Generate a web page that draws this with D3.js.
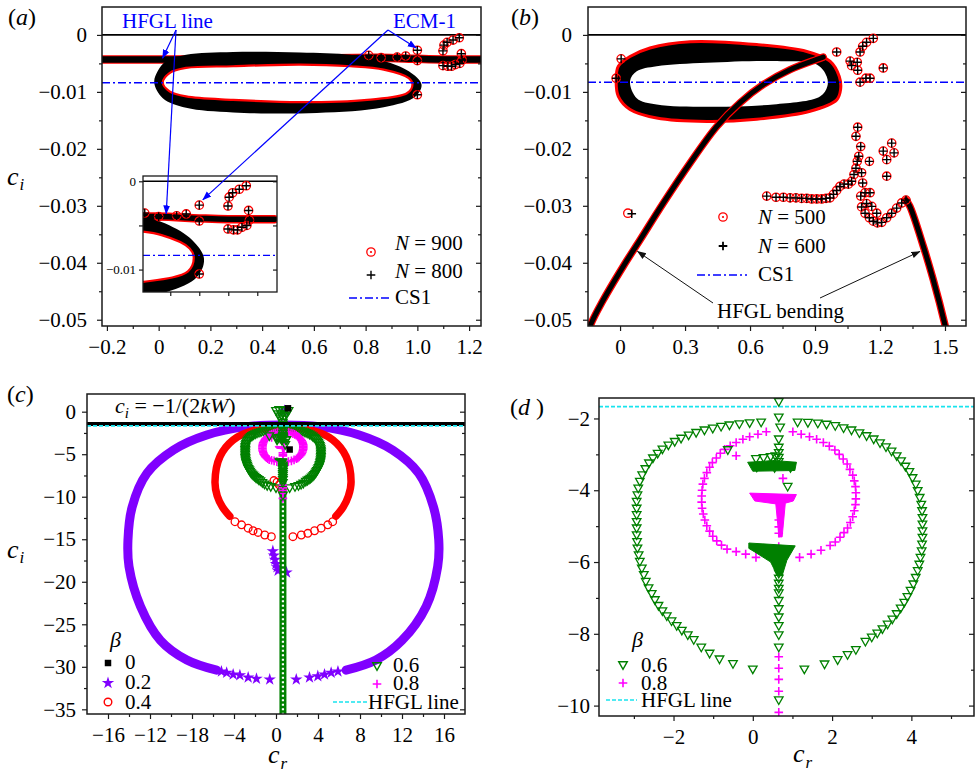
<!DOCTYPE html>
<html>
<head>
<meta charset="utf-8">
<script src="https://cdn.jsdelivr.net/npm/d3@7"></script>
<style>
  html, body { margin: 0; padding: 0; background: #fff; }
  svg, svg text { font-family: "Liberation Serif", "Times New Roman", "DejaVu Serif", serif; }
</style>
</head>
<body>
<svg id="fig" width="975" height="774"></svg>
<script>
// ================= data =================
// ---- panel (a): N = 900 / N = 800 spectra ----
const aXTicks = [-0.2, 0, 0.2, 0.4, 0.6, 0.8, 1.0, 1.2];
const aXTickLabels = ["−0.2", "0", "0.2", "0.4", "0.6", "0.8", "1.0", "1.2"];
const aXMinor = [-0.1, 0.1, 0.3, 0.5, 0.7, 0.9, 1.1];
const ciTicks = [0, -0.01, -0.02, -0.03, -0.04, -0.05];
const ciTickLabels = ["0", "−0.01", "−0.02", "−0.03", "−0.04", "−0.05"];
const ciMinor = [-0.005, -0.015, -0.025, -0.035, -0.045];
const aCS1 = -0.0084;
// outer and inner edges of the closed eigenvalue ring
const aRingOuter = [[-0.017,-0.0084],[-0.004,-0.0064],[0.029,-0.0046],[0.106,-0.0035],[0.288,-0.0030],[0.547,-0.0031],[0.741,-0.0035],[0.870,-0.0046],[0.967,-0.0064],[1.016,-0.0087],[0.993,-0.0108],[0.870,-0.0127],[0.611,-0.0137],[0.288,-0.0136],[0.106,-0.0128],[0.016,-0.0111]];
const aRingInner = [[0.016,-0.0084],[0.042,-0.0067],[0.106,-0.0058],[0.288,-0.0055],[0.547,-0.0052],[0.741,-0.0055],[0.870,-0.0061],[0.967,-0.0076],[0.981,-0.0087],[0.961,-0.0102],[0.806,-0.0114],[0.547,-0.0118],[0.288,-0.0114],[0.106,-0.0108],[0.042,-0.0099]];
// HFGL line branch
const aHfgl = [[-0.23,-0.0043],[0.05,-0.0043],[0.5,-0.0042],[0.85,-0.0040],[1.0,-0.0042],[1.1,-0.0043],[1.26,-0.0043]];
// isolated eigenvalues (ECM-1 and neighbours)
const aScatter = [[1.0,-0.0027],[1.0,-0.0105],[0.812,-0.0036],[0.860,-0.0040],[0.922,-0.0039],[0.955,-0.0037],[1.0,-0.0045],
  [1.099,-0.0028],[1.103,-0.0018],[1.115,-0.0013],[1.138,-0.0009],[1.162,-0.0005],
  [1.099,-0.0054],[1.118,-0.0055],[1.132,-0.0055],[1.147,-0.0052],[1.164,-0.0050],[1.173,-0.0044],[1.170,-0.0033]];
const insetXTicks = [0.9, 1.0, 1.1, 1.2];
const insetYTicks = [0, -0.005, -0.01];
const insetYTickLabels = ["0", "", "−0.01"];

// ---- panel (b): N = 500 / N = 600 spectra ----
const bXTicks = [0, 0.3, 0.6, 0.9, 1.2, 1.5];
const bXTickLabels = ["0", "0.3", "0.6", "0.9", "1.2", "1.5"];
const bXMinor = [0.15, 0.45, 0.75, 1.05, 1.35];
const bCS1 = -0.0083;
const bRingOuter = [[-0.018,-0.0079],[-0.008,-0.0055],[0.046,-0.0038],[0.138,-0.0023],[0.323,-0.0012],[0.631,-0.0017],[0.862,-0.0029],[0.969,-0.0046],[1.012,-0.0073],[1.018,-0.0096],[1.0,-0.0114],[0.877,-0.0134],[0.631,-0.0148],[0.400,-0.0152],[0.169,-0.0146],[0.046,-0.0131],[-0.008,-0.0108]];
const bRingInner = [[0.046,-0.0081],[0.077,-0.0064],[0.169,-0.0055],[0.400,-0.0049],[0.708,-0.0046],[0.908,-0.0052],[0.954,-0.0073],[0.957,-0.0090],[0.923,-0.0108],[0.708,-0.0122],[0.400,-0.0126],[0.169,-0.0122],[0.077,-0.0111]];
const bBendLeft = [[-0.16,-0.0545],[-0.138,-0.0511],[-0.077,-0.0465],[0.015,-0.0406],[0.092,-0.0360],[0.200,-0.0295],[0.323,-0.0225],[0.446,-0.0161],[0.554,-0.0119],[0.662,-0.0087],[0.785,-0.0061],[0.908,-0.0043],[0.938,-0.0039]];
const bBendRight = [[1.320,-0.0290],[1.338,-0.0301],[1.400,-0.0371],[1.446,-0.0430],[1.500,-0.0509],[1.515,-0.0535]];
const bOnly500 = [[0.036,-0.0313]];
const bOnly600 = [[0.054,-0.0314]];
const bScatter = [[0.005,-0.0042],[-0.018,-0.0076],
  [1.000,-0.0030],[1.062,-0.0046],[1.069,-0.0054],[1.095,-0.0048],[1.097,-0.0062],[1.108,-0.0083],[1.135,-0.0076],[1.154,-0.0076],[1.215,-0.0058],
  [1.108,-0.0030],[1.120,-0.0020],[1.138,-0.0013],[1.169,-0.0006],
  [0.677,-0.0283],[0.720,-0.0285],[0.754,-0.0285],[0.785,-0.0286],[0.812,-0.0286],[0.838,-0.0287],[0.862,-0.0287],[0.885,-0.0288],[0.908,-0.0288],[0.931,-0.0288],[0.951,-0.0287],[0.969,-0.0286],[0.985,-0.0280],[1.000,-0.0273],[1.015,-0.0266],[1.034,-0.0262],[1.054,-0.0262],[1.069,-0.0257],[1.080,-0.0245],[1.089,-0.0234],[1.095,-0.0222],[1.102,-0.0213],
  [1.089,-0.0178],[1.097,-0.0162],[1.111,-0.0196],[1.115,-0.0242],[1.120,-0.0260],[1.111,-0.0283],[1.115,-0.0302],[1.131,-0.0313],[1.151,-0.0321],[1.169,-0.0327],[1.188,-0.0330],[1.208,-0.0329],[1.231,-0.0321],[1.254,-0.0313],[1.277,-0.0304],[1.300,-0.0295],[1.320,-0.0290],
  [1.138,-0.0296],[1.162,-0.0301],[1.185,-0.0313],[1.154,-0.0277],[1.131,-0.0277],
  [1.151,-0.0222],[1.215,-0.0204],[1.254,-0.0190],[1.265,-0.0207],[1.231,-0.0219],[1.231,-0.0248]];

// ---- panel (c): spectra for several β ----
const cXTicks = [-16, -12, -8, -4, 0, 4, 8, 12, 16];
const cXTickLabels = ["−16", "−12", "−18", "−4", "0", "4", "8", "12", "16"];
const cXMinor = [-14, -10, -6, -2, 2, 6, 10, 14];
const cYTicks = [0, -5, -10, -15, -20, -25, -30, -35];
const cYTickLabels = ["0", "−5", "−10", "−15", "−20", "−25", "−30", "−35"];
const cYMinor = [-2.5, -7.5, -12.5, -17.5, -22.5, -27.5, -32.5];
const cLineKW = -1.45;      // c_i = −1/(2kW)
const hfglLevel = -1.67;    // HFGL line
const beta0 = [[1.14,0.4],[1.30,-4.45]];
const beta02Band = [[-5.65,-30.4],[-8.49,-29.2],[-11.0,-26.9],[-12.9,-22.9],[-14.0,-18.2],[-14.1,-15.1],[-13.7,-11.2],[-12.3,-7.25],[-9.76,-4.5],[-6.60,-2.74],[-2.81,-1.76],[0.66,-1.56],[4.14,-1.76],[7.93,-2.74],[11.1,-4.5],[13.6,-7.25],[15.0,-11.2],[15.5,-15.1],[15.4,-18.2],[14.3,-22.9],[12.0,-26.9],[9.52,-29.2],[6.67,-30.4]];
const beta02Stars = [[-5.2,-30.55],[-4.70,-30.7],[-4.08,-30.9],[-3.44,-31.0],[-2.65,-31.25],[-1.86,-31.4],[-0.60,-31.5],[1.93,-31.5],[3.19,-31.25],[3.98,-31.1],[4.62,-30.9],[5.25,-30.7],[5.9,-30.55],
  [-0.3,-16.4],[-0.2,-16.9],[-0.1,-17.4],[0.0,-17.9],[0.1,-18.3],[0.2,-18.7],[1.0,-18.9],[0.8,0.1]];
const beta04Band = [[-4.4,-12.3],[-5.1,-11.2],[-5.6,-9.9],[-5.81,-8.24],[-5.34,-5.29],[-4.08,-3.33],[-2.18,-2.24],[0.67,-1.90],[3.52,-2.24],[5.42,-3.33],[6.68,-5.29],[7.15,-8.24],[6.9,-9.9],[6.4,-11.2],[5.7,-12.3]];
const beta04Circles = [[-3.91,-12.94],[-3.28,-13.3],[-2.65,-13.7],[-2.18,-14.0],[-1.71,-14.2],[-1.07,-14.5],[-0.44,-14.7],
  [1.61,-14.7],[2.41,-14.5],[3.03,-14.3],[3.67,-14.0],[4.30,-13.7],[4.93,-13.3],[5.40,-12.94],
  [-0.2,-8.1],[0.1,-8.3],[0.3,-8.6],[0.6,-9.2]];
const beta06Top = [[0.0,0.1],[0.3,0.2],[0.6,0.2],[0.9,0.1],[1.2,0.1],[0.2,-0.3],[0.5,-0.4],[0.8,-0.5],[1.0,-0.3],[0.4,-0.8],[0.7,-0.9],[0.65,-1.3]];
const beta06Deep = [[0.66,-6.3],[0.66,-35.8]];

// ---- panel (d): β = 0.6 and 0.8 in detail ----
const dXTicks = [-2, 0, 2, 4];
const dXTickLabels = ["−2", "0", "2", "4"];
const dXMinor = [-3, -1, 1, 3, 5];
const dYTicks = [-2, -4, -6, -8, -10];
const dYTickLabels = ["−2", "−4", "−6", "−8", "−10"];
const dYMinor = [-3, -5, -7, -9];
const beta06RingLeft = [[0.21,-2.11],[-0.08,-2.13],[-0.34,-2.16],[-0.59,-2.19],[-0.80,-2.23],[-1.01,-2.28],[-1.22,-2.33],[-1.43,-2.40],[-1.62,-2.47],[-1.81,-2.56],[-1.97,-2.65],[-2.13,-2.75],[-2.28,-2.86],[-2.40,-2.98],[-2.52,-3.11],[-2.62,-3.25],[-2.71,-3.41],[-2.79,-3.58],[-2.85,-3.76],[-2.89,-3.95],[-2.91,-4.14],[-2.93,-4.32],[-2.93,-4.51],[-2.93,-4.69],[-2.93,-4.88],[-2.93,-5.06],[-2.93,-5.25],[-2.92,-5.44],[-2.91,-5.62],[-2.88,-5.81],[-2.85,-5.99],[-2.80,-6.18],[-2.75,-6.36],[-2.70,-6.55],[-2.63,-6.73],[-2.55,-6.89],[-2.47,-7.06],[-2.38,-7.22],[-2.28,-7.37],[-2.17,-7.51],[-2.05,-7.65],[-1.92,-7.78],[-1.79,-7.91],[-1.64,-8.04],[-1.49,-8.17],[-1.30,-8.38],[-1.09,-8.55],[-0.84,-8.71],[-0.50,-8.84],[0.00,-8.99]];
const beta06RingRight = [[1.13,-2.11],[1.39,-2.12],[1.64,-2.14],[1.86,-2.17],[2.08,-2.21],[2.29,-2.27],[2.49,-2.33],[2.69,-2.41],[2.87,-2.49],[3.05,-2.58],[3.21,-2.69],[3.36,-2.80],[3.50,-2.92],[3.63,-3.05],[3.74,-3.19],[3.85,-3.34],[3.95,-3.49],[4.03,-3.66],[4.11,-3.84],[4.16,-4.02],[4.21,-4.21],[4.25,-4.40],[4.27,-4.58],[4.28,-4.77],[4.28,-4.95],[4.28,-5.14],[4.28,-5.32],[4.27,-5.51],[4.26,-5.70],[4.23,-5.88],[4.20,-6.07],[4.16,-6.25],[4.11,-6.44],[4.05,-6.62],[3.98,-6.80],[3.90,-6.97],[3.82,-7.13],[3.73,-7.29],[3.63,-7.45],[3.52,-7.60],[3.40,-7.74],[3.27,-7.87],[3.14,-7.99],[3.00,-8.10],[2.84,-8.22],[2.60,-8.45],[2.39,-8.59],[2.14,-8.73],[1.81,-8.85],[1.30,-8.99]];
const beta06Stem = [[0.655,-1.54],[0.655,-1.97],[0.69,-2.25],[0.655,-2.58],[0.655,-2.81],[0.655,-2.96],[0.655,-3.09],[0.655,-3.21],[0.88,-3.90],
  [0.655,-6.32],[0.655,-6.46],[0.655,-6.60],[0.655,-6.74],[0.655,-6.87],[0.655,-7.08],[0.655,-7.31],[0.655,-7.54],[0.655,-7.78],[0.655,-8.04],[0.655,-8.38],[0.655,-9.85],
  [-0.63,-2.88],[0.08,-3.13],[0.27,-3.10],[0.45,-3.07],[0.57,-3.05],[0.97,-3.33],[0.10,-3.36],[0.55,-3.38],[0.95,-3.38]];
const beta06Cluster1 = [[-0.13,-3.22],[0.2,-3.20],[0.5,-3.17],[1.10,-3.22],[1.06,-3.45],[0.0,-3.47]];
const beta06Cluster2 = [[-0.10,-5.47],[1.07,-5.55],[0.86,-5.95],[0.74,-6.38],[0.62,-6.38],[0.45,-6.0],[0.05,-5.72],[-0.10,-5.62]];
const beta08RingLeft = [[0.34,-2.37],[0.13,-2.44],[-0.08,-2.51],[-0.25,-2.58],[-0.42,-2.67],[-0.57,-2.76],[-0.71,-2.86],[-0.82,-2.97],[-0.92,-3.10],[-1.02,-3.23],[-1.09,-3.36],[-1.16,-3.51],[-1.22,-3.67],[-1.26,-3.83],[-1.28,-4.00],[-1.29,-4.16],[-1.29,-4.33],[-1.28,-4.50],[-1.25,-4.66],[-1.21,-4.83],[-1.16,-4.99],[-1.09,-5.14],[-1.01,-5.28],[-0.91,-5.41],[-0.79,-5.53],[-0.65,-5.64],[-0.42,-5.71],[-0.18,-5.78],[0.08,-5.87]];
const beta08RingRight = [[1.01,-2.37],[1.22,-2.44],[1.43,-2.51],[1.61,-2.58],[1.78,-2.67],[1.93,-2.77],[2.07,-2.88],[2.18,-3.00],[2.28,-3.13],[2.38,-3.27],[2.45,-3.42],[2.52,-3.58],[2.56,-3.74],[2.59,-3.90],[2.60,-4.07],[2.60,-4.24],[2.59,-4.40],[2.56,-4.57],[2.52,-4.74],[2.46,-4.90],[2.39,-5.05],[2.30,-5.18],[2.20,-5.31],[2.08,-5.44],[1.95,-5.54],[1.72,-5.67],[1.47,-5.78],[1.18,-5.87]];
const beta08Stem = [[-0.42,-3.04],[0.76,-3.67],[0.655,-4.83],[0.655,-5.02],[0.655,-5.20],[0.655,-5.57],[0.655,-8.64],[0.655,-8.96],[0.655,-9.27],[0.655,-9.60],[0.655,-10.19]];
const beta08Cluster = [[-0.08,-4.08],[1.10,-4.12],[1.02,-4.30],[0.82,-4.36],[0.74,-5.30],[0.66,-5.30],[0.58,-4.38],[0.05,-4.30]];

// ================= drawing =================
const FONT = "'Liberation Serif', 'Times New Roman', 'DejaVu Serif', serif";
const C = { red: "#ff0000", blue: "#0000ff", purple: "#8000ff", green: "#008000", magenta: "#ff00ff", cyan: "#18e4ee", ink: "#111" };
const svg = d3.select("#fig").attr("font-family", FONT);
svg.append("rect").attr("width", 975).attr("height", 774).attr("fill", "#fff");
const defs = svg.append("defs");

function arrowHead(id, color) {
  defs.append("marker").attr("id", id).attr("viewBox", "0 0 10 10")
    .attr("refX", 9.5).attr("refY", 5).attr("markerWidth", 9).attr("markerHeight", 9)
    .attr("markerUnits", "userSpaceOnUse").attr("orient", "auto")
    .append("path").attr("d", "M0,1.2L10,5L0,8.8Z").attr("fill", color);
}
arrowHead("arrBlue", C.blue);
arrowHead("arrBlack", C.ink);

let clipN = 0;
function makePanel(box, xd, yd) {
  const x = d3.scaleLinear().domain(xd).range([box.left, box.right]);
  const y = d3.scaleLinear().domain(yd).range([box.bottom, box.top]);
  const g = svg.append("g");
  const id = "clip" + (clipN++);
  defs.append("clipPath").attr("id", id).append("rect")
    .attr("x", box.left).attr("y", box.top).attr("width", box.right - box.left).attr("height", box.bottom - box.top);
  const plot = g.append("g").attr("clip-path", `url(#${id})`);
  return { x, y, g, plot, box };
}

function axes(P, s) {
  const { x, y, g, box } = P;
  const fs = s.fs || 21, major = s.major || 5, minor = s.minor || 3;
  const style = a => {
    a.select(".domain").remove();
    a.attr("font-family", FONT).attr("font-size", fs).attr("color", "#1a1a1a");
    a.selectAll("line").attr("stroke-width", 1.2);
    a.selectAll("text").attr("fill", "#000").attr("font-family", FONT);
  };
  const bottom = g.append("g").attr("transform", `translate(0,${box.bottom})`);
  bottom.append("g").call(d3.axisBottom(x).tickValues(s.xt).tickFormat((d, i) => s.xl[i]).tickSizeInner(major).tickSizeOuter(0).tickPadding(s.xpad ?? 8)).call(style);
  bottom.append("g").call(d3.axisBottom(x).tickValues(s.xm).tickFormat("").tickSizeInner(minor).tickSizeOuter(0)).call(style);
  const left = g.append("g").attr("transform", `translate(${box.left},0)`);
  left.append("g").call(d3.axisLeft(y).tickValues(s.yt).tickFormat((d, i) => s.yl[i]).tickSizeInner(major).tickSizeOuter(0).tickPadding(s.ypad ?? 8)).call(style);
  left.append("g").call(d3.axisLeft(y).tickValues(s.ym).tickFormat("").tickSizeInner(minor).tickSizeOuter(0)).call(style);
  // mirrored ticks on the right edge point into the plot
  const right = g.append("g").attr("transform", `translate(${box.right},0)`);
  right.append("g").call(d3.axisLeft(y).tickValues(s.yt).tickFormat("").tickSizeInner(major).tickSizeOuter(0)).call(style);
  right.append("g").call(d3.axisLeft(y).tickValues(s.ym).tickFormat("").tickSizeInner(minor).tickSizeOuter(0)).call(style);
  g.append("rect").attr("x", box.left).attr("y", box.top)
    .attr("width", box.right - box.left).attr("height", box.bottom - box.top)
    .attr("fill", "none").attr("stroke", "#1a1a1a").attr("stroke-width", s.frame || 1.5);
}

function hline(P, v, color, width, dash) {
  const l = P.plot.append("line").attr("x1", P.box.left).attr("x2", P.box.right)
    .attr("y1", P.y(v)).attr("y2", P.y(v)).attr("stroke", color).attr("stroke-width", width);
  if (dash) l.attr("stroke-dasharray", dash);
  return l;
}

function band(sel, data, P, color, width, curve) {
  const line = d3.line().x(d => P.x(d[0])).y(d => P.y(d[1])).curve(curve || d3.curveCatmullRom);
  return sel.append("path").datum(data).attr("d", line).attr("fill", "none")
    .attr("stroke", color).attr("stroke-width", width)
    .attr("stroke-linecap", "round").attr("stroke-linejoin", "round");
}

function ring(sel, outer, inner, P) {
  const closed = d3.line().x(d => P.x(d[0])).y(d => P.y(d[1])).curve(d3.curveCatmullRomClosed);
  sel.append("path").attr("d", closed(outer) + closed(inner)).attr("fill", "#000").attr("fill-rule", "evenodd");
  return closed;
}

function polygon(sel, data, P, color) {
  const closed = d3.line().x(d => P.x(d[0])).y(d => P.y(d[1])).curve(d3.curveLinearClosed);
  sel.append("path").attr("d", closed(data)).attr("fill", color).attr("stroke", color).attr("stroke-width", 1);
}

const SYM = {
  plus: "M-4.3,0H4.3M0,-4.3V4.3",
  tri: "M-4.3,-3.3L4.3,-3.3L0,4.3Z"
};
function markers(sel, data, P, kind) {
  const g = sel.append("g");
  const pos = d => `translate(${P.x(d[0])},${P.y(d[1])})`;
  if (kind === "circPlus" || kind === "circ") {
    g.selectAll("circle").data(data).join("circle").attr("cx", d => P.x(d[0])).attr("cy", d => P.y(d[1]))
      .attr("r", 4.2).attr("fill", "none").attr("stroke", C.red).attr("stroke-width", 1.3);
  }
  if (kind === "circPlus" || kind === "plus") {
    g.selectAll("path").data(data).join("path").attr("transform", pos).attr("d", SYM.plus)
      .attr("stroke", "#000").attr("stroke-width", 1.4);
  } else if (kind === "tri") {
    g.selectAll("path").data(data).join("path").attr("transform", pos).attr("d", SYM.tri)
      .attr("fill", "none").attr("stroke", C.green).attr("stroke-width", 1.3);
  } else if (kind === "mplus") {
    g.selectAll("path").data(data).join("path").attr("transform", pos).attr("d", SYM.plus)
      .attr("stroke", C.magenta).attr("stroke-width", 1.6);
  } else if (kind === "star") {
    g.selectAll("path").data(data).join("path").attr("transform", pos)
      .attr("d", d3.symbol(d3.symbolStar, 48)).attr("fill", C.purple);
  } else if (kind === "rcircle") {
    g.selectAll("circle").data(data).join("circle").attr("cx", d => P.x(d[0])).attr("cy", d => P.y(d[1]))
      .attr("r", 3.8).attr("fill", "none").attr("stroke", C.red).attr("stroke-width", 1.3);
  } else if (kind === "square") {
    g.selectAll("path").data(data).join("path").attr("transform", pos)
      .attr("d", d3.symbol(d3.symbolSquare, 42)).attr("fill", "#000");
  }
  return g;
}

function label(sel, x, y, parts, size, fill) {
  const t = sel.append("text").attr("x", x).attr("y", y).attr("font-family", FONT)
    .attr("font-size", size || 21).attr("fill", fill || "#000");
  parts.forEach(p => {
    const s = t.append("tspan").text(p.t);
    if (p.i) s.attr("font-style", "italic");
    if (p.size) s.attr("font-size", p.size);
    if (p.dy) s.attr("dy", p.dy);
    if (p.dx) s.attr("dx", p.dx);
  });
  return t;
}
const ciTitle = (sel, x, y) => label(sel, x, y, [{ t: "c", i: 1, size: 26 }, { t: "i", i: 1, size: 17, dy: 5, dx: 1 }]);
const crTitle = (sel, x, y) => label(sel, x, y, [{ t: "c", i: 1, size: 26 }, { t: "r", i: 1, size: 17, dy: 6, dx: 1 }]);

// ---------- panel (a) ----------
const A = makePanel({ left: 102, right: 481, top: 7, bottom: 326 }, [-0.219, 1.246], [-0.0511, 0.0049]);
hline(A, 0, "#000", 1.6);
band(A.plot, aHfgl, A, C.red, 8.5);
band(A.plot, aHfgl, A, "#000", 6.5);
const aClosed = ring(A.plot, aRingOuter, aRingInner, A);
A.plot.append("path").attr("d", aClosed(aRingInner)).attr("fill", "none").attr("stroke", C.red).attr("stroke-width", 2.2);
hline(A, aCS1, C.blue, 1.5, "8,3,2,3");
markers(A.plot, aScatter, A, "circPlus");
axes(A, { xt: aXTicks, xl: aXTickLabels, xm: aXMinor, yt: ciTicks, yl: ciTickLabels, ym: ciMinor, ypad: 10 });

// inset of (a): close-up around the right end of the ring
const I = makePanel({ left: 143, right: 277, top: 176, bottom: 292 }, [0.806, 1.268], [-0.01254, 0.0006]);
I.plot.append("rect").attr("x", 143).attr("y", 176).attr("width", 134).attr("height", 116).attr("fill", "#fff");
hline(I, 0, "#000", 1.6);
band(I.plot, aHfgl, I, C.red, 8.5);
band(I.plot, aHfgl, I, "#000", 5.5);
ring(I.plot, aRingOuter, aRingInner, I);
I.plot.append("path").attr("d", d3.line().x(d => I.x(d[0])).y(d => I.y(d[1])).curve(d3.curveCatmullRomClosed)(aRingInner))
  .attr("fill", "none").attr("stroke", C.red).attr("stroke-width", 2.2);
hline(I, aCS1, C.blue, 1.2, "7,3,2,3");
markers(I.plot, aScatter, I, "circPlus");
axes(I, { xt: insetXTicks, xl: ["", "", "", ""], xm: [], yt: insetYTicks, yl: insetYTickLabels, ym: [], fs: 13, major: 4, minor: 2, ypad: 3, frame: 1.3 });

// annotations of (a)
const annA = svg.append("g");
label(annA, 122, 28, [{ t: "HFGL line" }], 21, C.blue);
label(annA, 393, 28, [{ t: "ECM-1" }], 21, C.blue);
const arrowsA = [
  [176, 30, A.x(0.015), A.y(-0.0041)],
  [176, 30, I.x(0.886), I.y(-0.0037)],
  [388, 30, A.x(0.996), A.y(-0.0023)],
  [388, 30, I.x(1.012), I.y(-0.0021)]
];
annA.selectAll("line.arr").data(arrowsA).join("line").attr("class", "arr")
  .attr("x1", d => d[0]).attr("y1", d => d[1]).attr("x2", d => d[2]).attr("y2", d => d[3])
  .attr("stroke", C.blue).attr("stroke-width", 1.2).attr("marker-end", "url(#arrBlue)");
// legend of (a)
annA.append("circle").attr("cx", 371).attr("cy", 252).attr("r", 4.2).attr("fill", "none").attr("stroke", C.red).attr("stroke-width", 1.3);
annA.append("circle").attr("cx", 371).attr("cy", 252).attr("r", 1.1).attr("fill", C.red);
annA.append("path").attr("transform", "translate(371,275)").attr("d", SYM.plus).attr("stroke", "#000").attr("stroke-width", 1.4);
annA.append("line").attr("x1", 349).attr("x2", 389).attr("y1", 298).attr("y2", 298).attr("stroke", C.blue).attr("stroke-width", 1.5).attr("stroke-dasharray", "8,3,2,3");
label(annA, 395, 250, [{ t: "N", i: 1 }, { t: " = 900" }]);
label(annA, 395, 278, [{ t: "N", i: 1 }, { t: " = 800" }]);
label(annA, 395, 304, [{ t: "CS1" }]);
label(annA, 8, 25, [{ t: "(" }, { t: "a", i: 1 }, { t: ")" }], 24);
ciTitle(annA, 7, 185);

// ---------- panel (b) ----------
const B = makePanel({ left: 588, right: 966, top: 7, bottom: 326 }, [-0.148, 1.597], [-0.0511, 0.0049]);
hline(B, 0, "#000", 1.6);
const bClosed = ring(B.plot, bRingOuter, bRingInner, B);
B.plot.append("path").attr("d", bClosed(bRingOuter)).attr("fill", "none").attr("stroke", C.red).attr("stroke-width", 3);
band(B.plot, bBendLeft, B, C.red, 7.5);
band(B.plot, bBendLeft, B, "#000", 5);
band(B.plot, bBendRight, B, C.red, 7.5);
band(B.plot, bBendRight, B, "#000", 5);
hline(B, bCS1, C.blue, 1.5, "8,3,2,3");
markers(B.plot, bScatter, B, "circPlus");
markers(B.plot, bOnly500, B, "circ");
markers(B.plot, bOnly600, B, "plus");
axes(B, { xt: bXTicks, xl: bXTickLabels, xm: bXMinor, yt: ciTicks, yl: ciTickLabels, ym: ciMinor, ypad: 11 });

const annB = svg.append("g");
label(annB, 511, 25, [{ t: "(" }, { t: "b", i: 1 }, { t: ")" }], 24);
annB.append("circle").attr("cx", 723).attr("cy", 217).attr("r", 4.2).attr("fill", "none").attr("stroke", C.red).attr("stroke-width", 1.3);
annB.append("circle").attr("cx", 723).attr("cy", 217).attr("r", 1.1).attr("fill", C.red);
annB.append("path").attr("transform", "translate(723,246)").attr("d", SYM.plus).attr("stroke", "#000").attr("stroke-width", 1.8);
annB.append("line").attr("x1", 697).attr("x2", 747).attr("y1", 275).attr("y2", 275).attr("stroke", C.blue).attr("stroke-width", 1.5).attr("stroke-dasharray", "8,3,2,3");
label(annB, 758, 224, [{ t: "N", i: 1 }, { t: " = 500" }]);
label(annB, 758, 253, [{ t: "N", i: 1 }, { t: " = 600" }]);
label(annB, 758, 281, [{ t: "CS1" }]);
label(annB, 717, 318, [{ t: "HFGL bending" }]);
const arrowsB = [
  [713, 303, B.x(0.080), B.y(-0.0380)],
  [820, 298, B.x(1.385), B.y(-0.0380)]
];
annB.selectAll("line.arr").data(arrowsB).join("line").attr("class", "arr")
  .attr("x1", d => d[0]).attr("y1", d => d[1]).attr("x2", d => d[2]).attr("y2", d => d[3])
  .attr("stroke", C.ink).attr("stroke-width", 1).attr("marker-end", "url(#arrBlack)");

// ---------- panel (c) ----------
const Cp = makePanel({ left: 87, right: 465, top: 394, bottom: 714 }, [-18, 18], [-35.55, 2.08]);
band(Cp.plot, beta02Band, Cp, C.purple, 9);
markers(Cp.plot, beta02Stars, Cp, "star");
band(Cp.plot, beta04Band, Cp, C.red, 7.5);
markers(Cp.plot, beta04Circles, Cp, "rcircle");
band(Cp.plot, beta06Deep, Cp, C.green, 7, d3.curveLinear).attr("stroke-linecap", "butt");
band(Cp.plot, beta06Deep, Cp, "#fff", 2.2, d3.curveLinear).attr("stroke-dasharray", "2,2.5").attr("stroke-linecap", "butt");
markers(Cp.plot, beta06RingLeft, Cp, "tri");
markers(Cp.plot, beta06RingRight, Cp, "tri");
markers(Cp.plot, beta08RingLeft, Cp, "mplus");
markers(Cp.plot, beta08RingRight, Cp, "mplus");
polygon(Cp.plot, beta08Cluster, Cp, C.magenta);
markers(Cp.plot, beta08Stem, Cp, "mplus");
polygon(Cp.plot, beta06Cluster1, Cp, C.green);
polygon(Cp.plot, beta06Cluster2, Cp, C.green);
markers(Cp.plot, beta06Stem, Cp, "tri");
markers(Cp.plot, beta06Top, Cp, "tri");
markers(Cp.plot, beta0, Cp, "square");
hline(Cp, cLineKW, "#000", 4);
hline(Cp, hfglLevel, C.cyan, 1.6, "4,2");
axes(Cp, { xt: cXTicks, xl: cXTickLabels, xm: cXMinor, yt: cYTicks, yl: cYTickLabels, ym: cYMinor, ypad: 6 });

const annC = svg.append("g");
label(annC, 7, 402, [{ t: "(" }, { t: "c", i: 1 }, { t: ")" }], 24);
ciTitle(annC, 7, 558);
crTitle(annC, 268, 763);
label(annC, 115, 413, [{ t: "c", i: 1 }, { t: "i", i: 1, size: 15, dy: 5 }, { t: " = −1/(2", dy: -5 }, { t: "kW", i: 1 }, { t: ")" }], 22);
label(annC, 110, 647, [{ t: "β", i: 1 }], 22);
annC.append("path").attr("transform", "translate(108,663)").attr("d", d3.symbol(d3.symbolSquare, 42)).attr("fill", "#000");
annC.append("path").attr("transform", "translate(108,683)").attr("d", d3.symbol(d3.symbolStar, 48)).attr("fill", C.purple);
annC.append("circle").attr("cx", 108).attr("cy", 702).attr("r", 3.8).attr("fill", "none").attr("stroke", C.red).attr("stroke-width", 1.4);
label(annC, 125, 669, [{ t: "0" }]);
label(annC, 125, 689, [{ t: "0.2" }]);
label(annC, 125, 709, [{ t: "0.4" }]);
annC.append("path").attr("transform", "translate(377,666)").attr("d", SYM.tri).attr("fill", "none").attr("stroke", C.green).attr("stroke-width", 1.4);
annC.append("path").attr("transform", "translate(377,684)").attr("d", SYM.plus).attr("stroke", C.magenta).attr("stroke-width", 1.6);
annC.append("line").attr("x1", 333).attr("x2", 367).attr("y1", 702).attr("y2", 702).attr("stroke", C.cyan).attr("stroke-width", 1.6).attr("stroke-dasharray", "4,2");
label(annC, 393, 672, [{ t: "0.6" }]);
label(annC, 393, 690, [{ t: "0.8" }]);
label(annC, 368, 709, [{ t: "HFGL line" }]);

// ---------- panel (d) ----------
const D = makePanel({ left: 599, right: 974, top: 398, bottom: 716 }, [-3.88, 5.58], [-10.29, -1.43]);
hline(D, hfglLevel, C.cyan, 1.6, "4,2");
markers(D.plot, beta06RingLeft, D, "tri");
markers(D.plot, beta06RingRight, D, "tri");
markers(D.plot, beta08RingLeft, D, "mplus");
markers(D.plot, beta08RingRight, D, "mplus");
polygon(D.plot, beta08Cluster, D, C.magenta);
markers(D.plot, beta08Stem, D, "mplus");
polygon(D.plot, beta06Cluster1, D, C.green);
polygon(D.plot, beta06Cluster2, D, C.green);
markers(D.plot, beta06Stem, D, "tri");
axes(D, { xt: dXTicks, xl: dXTickLabels, xm: dXMinor, yt: dYTicks, yl: dYTickLabels, ym: dYMinor, ypad: 4 });

const annD = svg.append("g");
label(annD, 510, 415, [{ t: "(" }, { t: "d", i: 1 }, { t: " )" }], 24);
crTitle(annD, 793, 762);
label(annD, 632, 647, [{ t: "β", i: 1 }], 22);
annD.append("path").attr("transform", "translate(623,665)").attr("d", SYM.tri).attr("fill", "none").attr("stroke", C.green).attr("stroke-width", 1.4);
annD.append("path").attr("transform", "translate(623,683)").attr("d", SYM.plus).attr("stroke", C.magenta).attr("stroke-width", 1.6);
annD.append("line").attr("x1", 606).attr("x2", 637).attr("y1", 700).attr("y2", 700).attr("stroke", C.cyan).attr("stroke-width", 1.6).attr("stroke-dasharray", "4,2");
label(annD, 641, 672, [{ t: "0.6" }]);
label(annD, 641, 690, [{ t: "0.8" }]);
label(annD, 641, 707, [{ t: "HFGL line" }]);
</script>
</body>
</html>
